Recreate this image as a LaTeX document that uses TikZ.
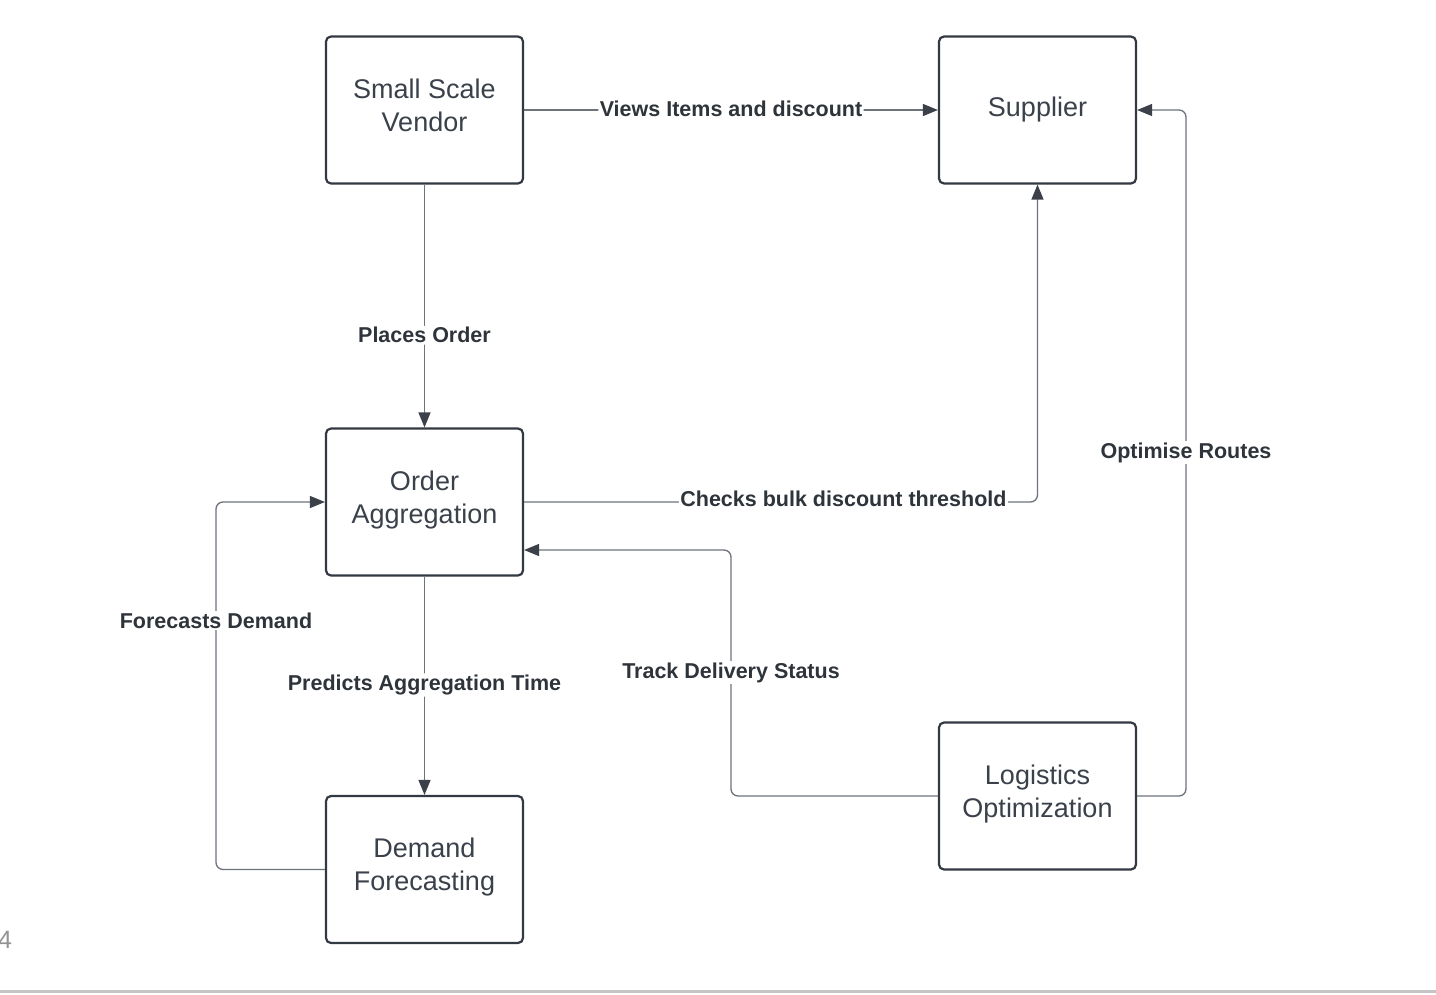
\documentclass[tikz,border=0pt]{standalone}
\usepackage{fontspec}
\setmainfont{Liberation Sans}
\usetikzlibrary{arrows.meta}
\definecolor{boxc}{HTML}{333942}
\definecolor{txtc}{HTML}{3A414A}
\definecolor{linec}{HTML}{6E737B}
\definecolor{arrc}{HTML}{3B4049}
\definecolor{lblc}{HTML}{2F343B}
\definecolor{rulec}{HTML}{C4C4C4}
\newcommand{\liftlines}[1]{\raisebox{2pt}[\height][\depth]{\begin{tabular}{@{}c@{}}#1\end{tabular}}}
\tikzset{
  box/.style={draw=boxc, line width=2.2pt, rounded corners=5pt, minimum width=197pt, minimum height=147pt, align=center, text=txtc, font=\fontsize{27}{33}\selectfont, inner sep=0pt},
  conn/.style={draw=linec, line width=1.3pt, rounded corners=7pt, -{Triangle[length=15pt,width=12pt,color=arrc]}},
  lbl/.style={fill=white, text=lblc, font=\fontsize{21.5}{25}\selectfont\bfseries, inner sep=1.5pt, yshift=-2.5pt}
}
\begin{document}
\begin{tikzpicture}[x=1pt,y=-1pt]
\useasboundingbox (0,0) rectangle (1436,994);
\fill[white] (0,0) rectangle (1436,994);
\node[box] (ven) at (424.5,110) {\liftlines{Small Scale\\Vendor}};
\node[box] (sup) at (1037.5,110) {Supplier};
\node[box] (oa) at (424.5,502) {\liftlines{Order\\Aggregation}};
\node[box] (df) at (424.5,869.5) {\liftlines{Demand\\Forecasting}};
\node[box] (lo) at (1037.5,796) {\liftlines{Logistics\\Optimization}};
\coordinate (c1) at (216,869.5);
\coordinate (c2) at (216,502);
\coordinate (c3) at (731,796);
\coordinate (c4) at (731,550);
\coordinate (c5) at (1186,796);
\coordinate (c6) at (1186,110);
\coordinate (oain) at (oa.east |- c4);
\draw[conn] (ven.east) -- node[lbl, pos=0.5, yshift=4pt] {Views Items and discount} (sup.west);
\draw[conn] (ven.south) -- node[lbl, pos=0.61] {Places Order} (oa.north);
\draw[conn] (oa.east) -| node[lbl, pos=0.311, yshift=5.5pt] {Checks bulk discount threshold} (sup.south);
\draw[conn] (oa.south) -- node[lbl, pos=0.485] {Predicts Aggregation Time} (df.north);
\draw[conn] (df.west) -- (c1) -- (c2) -- (oa.west);
\node[lbl] (l1) at (216,618) {Forecasts Demand};
\draw[conn] (lo.west) -- (c3) -- (c4) -- (oain);
\node[lbl] (l2) at (731,670) {Track Delivery Status};
\draw[conn] (lo.east) -- (c5) -- (c6) -- (sup.east);
\node[lbl] (l3) at (1186,450) {Optimise Routes};
\node[anchor=base west, inner sep=0pt, text=gray!85, font=\fontsize{25}{25}\selectfont] (pg) at (-2,948) {4};
\draw[rulec, line width=2.5pt] (0,991.5) -- (1436,991.5);
\end{tikzpicture}
\end{document}
